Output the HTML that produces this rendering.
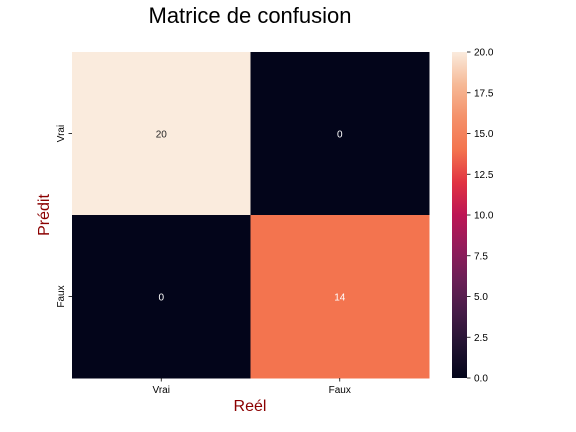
<!DOCTYPE html>
<html><head><meta charset="utf-8"><style>
body{margin:0;background:#fff;}
svg{display:block;font-family:"Liberation Sans",sans-serif;}
</style></head><body>
<svg id="chart" width="576" height="432">
<defs><linearGradient id="cbgrad" x1="0" y1="1" x2="0" y2="0"></linearGradient></defs>
<text x="250" y="23" font-size="22" text-anchor="middle">Matrice de confusion</text>
<text x="250" y="411" font-size="16" fill="#8b0000" text-anchor="middle">Reél</text>
<text transform="translate(49,215) rotate(-90)" font-size="16" fill="#8b0000" text-anchor="middle">Prédit</text>
<g id="cells"></g>
<rect x="452" y="52" width="15" height="326" fill="url(#cbgrad)"/>
<g id="cbticks"></g>
</svg>
<script>
const xCats=["Vrai","Faux"];
const yCats=["Vrai","Faux"];
const values=[[20,0],[0,14]];
const cbTicks=[0,2.5,5,7.5,10,12.5,15,17.5,20];
const vmin=0,vmax=20;
const stops=[[0,"#03051a"],[0.1,"#221331"],[0.2,"#451c47"],[0.3,"#6a1f56"],[0.4,"#931c5b"],[0.5,"#bd1655"],[0.6,"#e13342"],[0.7,"#f3744f"],[0.8,"#f4916a"],[0.9,"#f6b996"],[1,"#faebdd"]];
const NS="http://www.w3.org/2000/svg";
function hex(h){return [1,3,5].map(i=>parseInt(h.substr(i,2),16));}
function cmap(v){let t=(v-vmin)/(vmax-vmin);t=Math.max(0,Math.min(1,t));
for(let i=1;i<stops.length;i++){if(t<=stops[i][0]){const a=hex(stops[i-1][1]),b=hex(stops[i][1]);const f=(t-stops[i-1][0])/(stops[i][0]-stops[i-1][0]);return "rgb("+a.map((c,k)=>Math.round(c+(b[k]-c)*f)).join(",")+")";}}return stops[stops.length-1][1];}
const X0=72,X1=429,Y0=52,Y1=378;
const cw=(X1-X0)/xCats.length,ch=(Y1-Y0)/yCats.length;
const xs=i=>X0+i*cw, ys=j=>Y0+j*ch;
const yv=v=>Y1-(v-vmin)/(vmax-vmin)*(Y1-Y0);
const svg=document.getElementById('chart');
const g=document.getElementById('cells');
const grad=document.getElementById('cbgrad');
stops.forEach(s=>{const st=document.createElementNS(NS,'stop');st.setAttribute('offset',s[0]);st.setAttribute('stop-color',s[1]);grad.appendChild(st);});
function mk(tag,attrs,parent,text){const e=document.createElementNS(NS,tag);for(const k in attrs)e.setAttribute(k,attrs[k]);if(text!==undefined)e.textContent=text;parent.appendChild(e);return e;}
values.forEach((row,j)=>row.forEach((v,i)=>{
const r=mk('rect',{x:xs(i),y:ys(j),width:cw+0.5,height:ch+0.5,fill:cmap(v)},g);


const t=mk('text',{x:xs(i)+cw/2,y:ys(j)+ch/2+4,'font-size':10,'text-anchor':'middle',fill:(v-vmin)/(vmax-vmin)>0.8?'#262626':'#ffffff'},g,String(v));


}));
xCats.forEach((c,i)=>{
mk('line',{x1:xs(i)+cw/2,x2:xs(i)+cw/2,y1:Y1,y2:Y1+3.5,stroke:'#000','stroke-width':0.8},svg);
const t=mk('text',{x:xs(i)+cw/2,y:Y1+15,'font-size':10,'text-anchor':'middle'},svg,c);


});
yCats.forEach((c,j)=>{
const cy=ys(j)+ch/2;
mk('line',{x1:X0-3.5,x2:X0,y1:cy,y2:cy,stroke:'#000','stroke-width':0.8},svg);
const t=mk('text',{transform:'translate('+(X0-8)+','+cy+') rotate(-90)','font-size':10,'text-anchor':'middle'},svg,c);


});
const cb=document.getElementById('cbticks');
cbTicks.forEach(v=>{
mk('line',{x1:467,x2:470.5,y1:yv(v),y2:yv(v),stroke:'#000','stroke-width':0.8},cb);
const t=mk('text',{x:474,y:yv(v)+3.5,'font-size':10},cb,v.toFixed(1));


});
</script>
</body></html>
